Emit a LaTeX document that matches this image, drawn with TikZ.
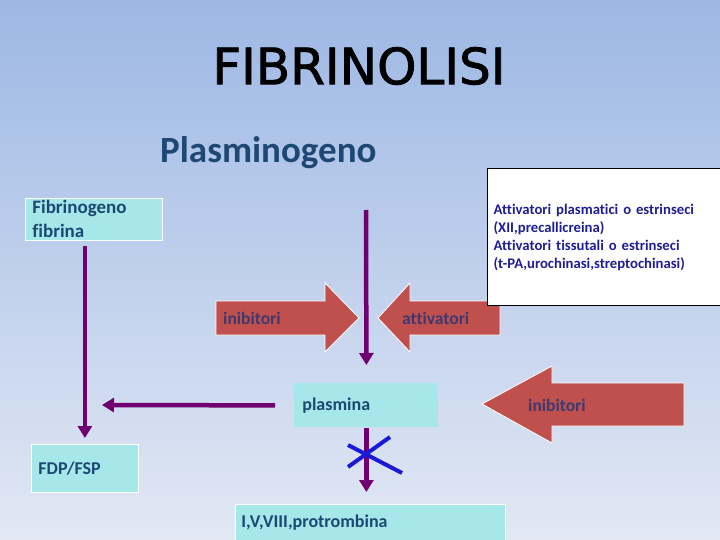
\documentclass[tikz,border=0pt]{standalone}
\usepackage{fontspec}
\newfontfamily\carlito[Ligatures=NoCommon]{Carlito}
\newfontfamily\headfont[FakeBold=1.6]{DejaVu Sans}
\usetikzlibrary{arrows.meta}
\definecolor{bgtop}{RGB}{157,184,228}
\definecolor{bgbottom}{RGB}{226,232,244}
\definecolor{boxcyan}{RGB}{166,232,234}
\definecolor{boxtext}{RGB}{29,72,115}
\definecolor{arrowred}{RGB}{192,80,77}
\definecolor{arrowtext}{RGB}{60,58,112}
\definecolor{flowpurple}{RGB}{112,0,112}
\definecolor{crossblue}{RGB}{25,25,215}
\definecolor{navytext}{RGB}{30,30,150}

\begin{document}
\begin{tikzpicture}[x=1pt, y=-1pt,
  cbox/.style={rectangle, fill=boxcyan, draw=white, line width=0.8pt, inner xsep=7pt, inner ysep=0pt,
    align=left, anchor=north west, text=boxtext, font=\carlito\bfseries\fontsize{18}{22}\selectfont},
  parrow/.style={draw=flowpurple, line width=4.5pt, -{Triangle[width=14pt,length=12pt]}},
  redarr/.style={fill=arrowred, draw=white, line width=0.8pt},
  arrlabel/.style={anchor=west, inner sep=0pt, text=arrowtext, font=\carlito\bfseries\fontsize{17.5}{20}\selectfont},
  xmark/.style={draw=crossblue, line width=4pt}]
  \useasboundingbox (0,0) rectangle (720,540);
  \shade[top color=bgtop, bottom color=bgbottom] (0,0) rectangle (720,540);

  \node[inner sep=0pt, font=\headfont\fontsize{50}{55}\selectfont] (title) at (359,66) {FIBRINOLISI};
  \node[anchor=base west, inner sep=0pt, text=boxtext, font=\carlito\bfseries\fontsize{37}{40}\selectfont] (plg) at (160,163) {Plasminogeno};

  % red block arrows
  \fill[redarr] (216,301) -- (325,301) -- (325,283) -- (359,318) -- (325,352) -- (325,335) -- (216,335) -- cycle;
  \node[arrlabel] (inibA) at (223,318) {inibitori};
  \fill[redarr] (378,318) -- (410,283) -- (410,301) -- (500,301) -- (500,335) -- (410,335) -- (410,352) -- cycle;
  \node[arrlabel] (attA) at (402,318) {attivatori};
  \fill[redarr] (482,404) -- (552,366) -- (552,383) -- (684,383) -- (684,426) -- (552,426) -- (552,443) -- cycle;
  \node[arrlabel] (inibB) at (528,405) {inibitori};

  % boxes
  \node[cbox, text width=123pt, minimum height=42pt, font=\carlito\bfseries\fontsize{19}{24}\selectfont] (fib) at (25,198) {Fibrinogeno\\fibrina};
  \node[cbox, fill=white, draw=black, line width=1.2pt, inner xsep=6pt, text width=221pt, minimum height=137pt,
    text=navytext, font=\carlito\bfseries\fontsize{14.7}{18}\selectfont] (attiv) at (487,168)
    {Attivatori plasmatici o estrinseci\\(XII,precallicreina)\\Attivatori tissutali o estrinseci\\(t-PA,urochinasi,streptochinasi)};
  \node[cbox, draw=none, inner xsep=8pt, text width=128pt, minimum height=44pt] (plasm) at (294,383) {plasmina};
  \node[cbox, text width=93pt, minimum height=48pt] (fdp) at (31,444) {FDP/FSP};
  \node[cbox, inner xsep=6pt, text width=258pt, minimum height=36pt] (prot) at (235,504) {I,V,VIII,protrombina};

  % purple connectors
  \coordinate (plgout) at (366,210);
  \coordinate (fdpin) at (102,405);
  \draw[parrow] (plgout) -- ([yshift=18pt]plasm.north);
  \draw[parrow] ([yshift=-5pt]fib.south -| fdp.north) -- ([yshift=6pt]fdp.north);
  \draw[parrow] ([xshift=-19pt]plasm.west) -- (fdpin);
  \draw[parrow] (plasm.south) -- ([yshift=12pt]plasm.south |- prot.north);

  % blocked step
  \draw[xmark] (348,445) -- (402,473);
  \draw[xmark] (348,467) -- (390,437);
\end{tikzpicture}
\end{document}
